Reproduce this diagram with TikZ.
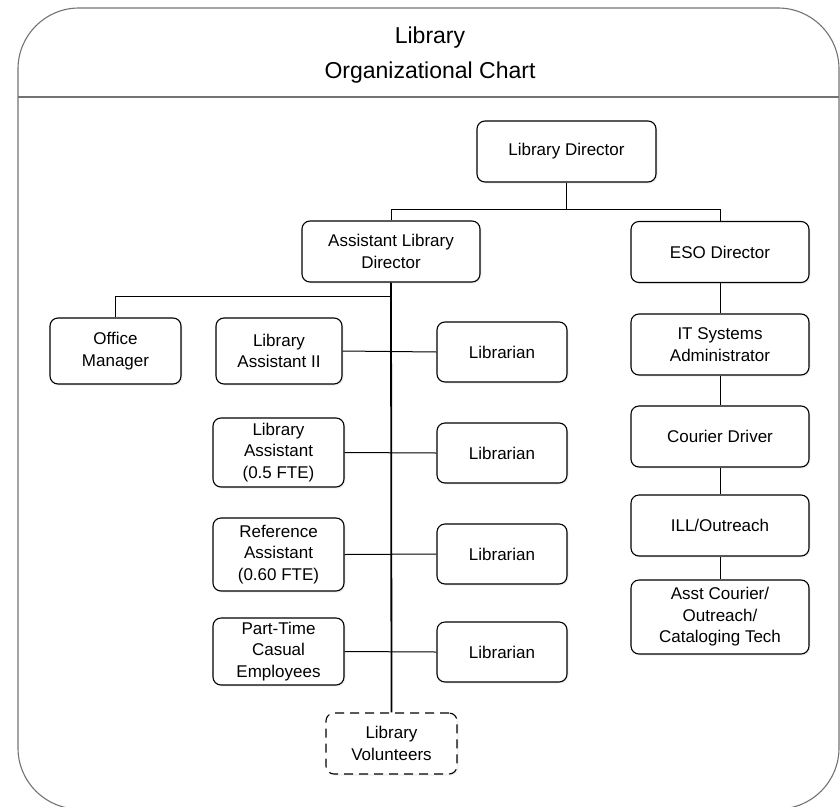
\documentclass[tikz,border=0pt]{standalone}
\usepackage{fontspec}
\setmainfont{Liberation Sans}
\usetikzlibrary{shadows}
\begin{document}
\begin{tikzpicture}[x=1pt,y=-1pt,
  box/.style={draw=black, line width=1.1pt, rounded corners=8pt, fill=white,
    align=center, inner sep=0pt, font=\fontsize{17}{21.5}\selectfont,
    drop shadow={opacity=0.12, shadow xshift=1.5pt, shadow yshift=-1.5pt}},
  wide/.style={minimum width=178pt, minimum height=61pt},
  link/.style={draw=black, line width=1pt},
  trunk/.style={draw=black, line width=1.8pt}]
\useasboundingbox (0,0) rectangle (840,806);
% frame
\draw[gray!90!black, line width=1.1pt, rounded corners=61pt] (18,8) rectangle (839,809);
\draw[gray!90!black, line width=1.1pt] (18,97) -- (839,97);
\node[align=center, font=\fontsize{23}{35}\selectfont] (title) at (430,55) {Library\\Organizational Chart};
% nodes
\node[box, wide, minimum width=179pt] (dir) at (566.5,151.5) {Library Director};
\node[box, wide] (ald) at (391,251.5) {Assistant Library\\Director};
\node[box, wide] (eso) at (720,252) {ESO Director};
\node[box, wide] (it) at (720,344.5) {IT Systems\\Administrator};
\node[box, wide] (cd) at (720,436.5) {Courier Driver};
\node[box, wide] (ill) at (720,525.5) {ILL/Outreach};
\node[box, wide, minimum height=74pt] (acc) at (720,617) {Asst Courier/\\Outreach/\\Cataloging Tech};
\node[box, minimum width=131pt, minimum height=66pt] (om) at (115.5,351) {Office\\Manager};
\node[box, minimum width=126pt, minimum height=66pt] (la2) at (279,351) {Library\\Assistant II};
\node[box, minimum width=131pt, minimum height=69pt] (la05) at (278.5,452.5) {Library\\Assistant\\(0.5 FTE)};
\node[box, minimum width=131pt, minimum height=73pt] (ra) at (278.5,554.5) {Reference\\Assistant\\(0.60 FTE)};
\node[box, minimum width=131pt, minimum height=67pt] (pt) at (278.5,651.5) {Part-Time\\Casual\\Employees};
\node[box, minimum width=130pt, minimum height=60pt] (lib1) at (502,352) {Librarian};
\node[box, minimum width=130pt, minimum height=60pt] (lib2) at (502,453) {Librarian};
\node[box, minimum width=130pt, minimum height=60pt] (lib3) at (502,554) {Librarian};
\node[box, minimum width=130pt, minimum height=60pt] (lib4) at (502,652) {Librarian};
\node[box, dashed, dash pattern=on 9pt off 6pt, minimum width=131pt, minimum height=61pt] (vol) at (391.5,743.5) {Library\\Volunteers};
% connectors
\coordinate (j1) at (566.5,209.5);
\draw[link] (dir.south) -- (j1);
\draw[link] (ald.north) |- (j1) -| (eso.north);
\coordinate (j2) at (391,296);
\draw[link] (j2) -| (om.north);
\draw[trunk] (ald.south) -- (vol.north);
\draw[link] (la2.east) -- (lib1.west);
\draw[link] (la05.east) -- (lib2.west);
\draw[link] (ra.east) -- (lib3.west);
\draw[link] (pt.east) -- (lib4.west);
\draw[link] (eso.south) -- (it.north);
\draw[link] (it.south) -- (cd.north);
\draw[link] (cd.south) -- (ill.north);
\draw[link] (ill.south) -- (acc.north);
\end{tikzpicture}
\end{document}
